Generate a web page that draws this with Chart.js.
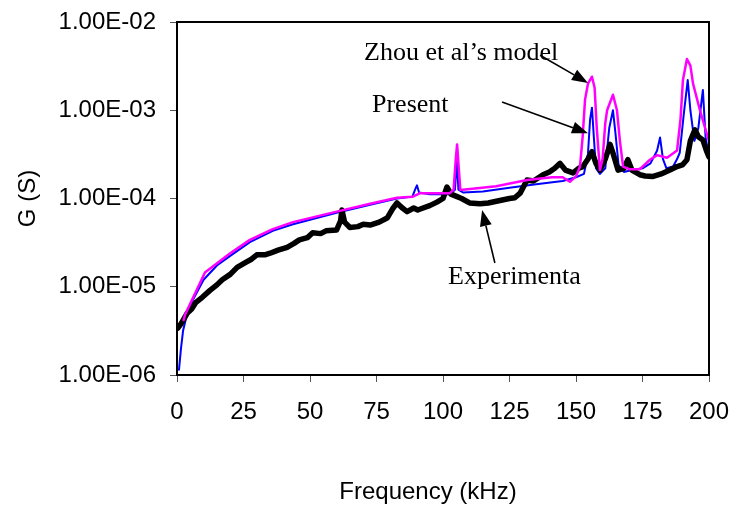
<!DOCTYPE html>
<html>
<head>
<meta charset="utf-8">
<script src="https://cdn.jsdelivr.net/npm/chart.js@4/dist/chart.umd.min.js"></script>
<style>
  html, body { margin: 0; padding: 0; background: #fff; }
</style>
</head>
<body>
<canvas id="gChart" width="733" height="510"></canvas>
<script>
// x: frequency (kHz), y: conductance G (S)
const xTicks = [0, 25, 50, 75, 100, 125, 150, 175, 200];
const yTicks = [1e-6, 1e-5, 1e-4, 1e-3, 1e-2];
const yTickLabels = ['1.00E-06', '1.00E-05', '1.00E-04', '1.00E-03', '1.00E-02'];

// Zhou et al's model (magenta)
const zhouFreq = [2.5, 3, 10.5, 20, 27.4, 36, 43.6, 60, 72.6, 82.7, 88.7, 91.4, 102.6, 104, 104.8, 105.3, 105.8, 106.5,
  107.5, 120, 131.6, 141, 145, 147.7, 150, 151.5, 152.5, 153.4, 154.5, 156, 157, 157.8, 159, 160, 161, 161.7, 163.9,
  165.4, 166.5, 167.7, 170, 174, 177.8, 180.5, 184.2, 188, 189.3, 190.2, 191.7, 193, 194, 196.6, 199.6, 200];
const zhouG = [4.2e-6, 4.8e-6, 1.45e-5, 2.4e-5, 3.4e-5, 4.5e-5, 5.4e-5, 7.1e-5, 8.7e-5, 1.02e-4, 1.05e-4, 1.15e-4, 1.15e-4, 1.26e-4, 2.8e-4, 4.1e-4, 2.5e-4, 1.26e-4,
  1.26e-4, 1.38e-4, 1.62e-4, 1.74e-4, 1.74e-4, 1.55e-4, 1.78e-4, 2.3e-4, 5.0e-4, 1.32e-3, 2.0e-3, 2.4e-3, 1.8e-3, 6.3e-4, 2.1e-4, 2.8e-4, 7.1e-4, 1.0e-3, 1.5e-3,
  1.0e-3, 4.5e-4, 2.3e-4, 2.15e-4, 2.15e-4, 2.75e-4, 3.1e-4, 2.9e-4, 3.5e-4, 8.0e-4, 2.2e-3, 3.8e-3, 3.2e-3, 2.0e-3, 1.0e-3, 4.9e-4, 4.5e-4];

// Present model (blue)
const presentFreq = [0.75, 1.5, 2.3, 3.5, 6, 10, 15, 20, 27.4, 36, 43.6, 60, 72.6, 82.7, 88.5, 89.5, 90.2, 91, 95, 102.6,
  104.5, 105.2, 105.8, 107.5, 115, 125, 135, 145, 150, 153, 154.5, 155.3, 156, 156.7, 157.5, 159, 161, 162.5, 163.9,
  164.8, 166, 168, 171, 175, 178, 180.5, 181.6, 182.7, 184, 186.5, 188, 189, 190.5, 192, 193, 194.5, 196, 197.7, 198.7, 199.6];
const presentG = [1.15e-6, 2.0e-6, 3.2e-6, 4.5e-6, 7.1e-6, 1.2e-5, 1.74e-5, 2.24e-5, 3.2e-5, 4.3e-5, 5.1e-5, 6.9e-5, 8.5e-5, 1.0e-4, 1.05e-4, 1.26e-4, 1.41e-4, 1.17e-4, 1.12e-4, 1.12e-4,
  1.26e-4, 2.75e-4, 1.26e-4, 1.17e-4, 1.2e-4, 1.32e-4, 1.45e-4, 1.58e-4, 1.74e-4, 1.9e-4, 3.2e-4, 7.9e-4, 1.07e-3, 5.0e-4, 2.2e-4, 1.9e-4, 2.2e-4, 6.3e-4, 1.0e-3,
  5.6e-4, 2.4e-4, 2.0e-4, 2.1e-4, 2.2e-4, 2.5e-4, 3.5e-4, 4.9e-4, 2.8e-4, 2.2e-4, 2.3e-4, 2.8e-4, 3.3e-4, 8.9e-4, 2.2e-3, 1.0e-3, 4.5e-4, 6.3e-4, 1.7e-3, 5.0e-4, 3.5e-4];

// Experimental (black)
const expFreq = [0.3, 1.5, 3.8, 5.5, 7, 9.5, 12.4, 15, 17, 20, 22.6, 26, 28, 30, 33, 35, 38, 41.4, 44, 46, 49, 51, 54, 56,
  60, 61.5, 62, 63, 65, 68, 70, 72.6, 76, 79, 81, 82.7, 84.5, 86.5, 89, 90.5, 92.5, 95, 97.7, 100, 101.5, 103, 105.3,
  107, 110, 113.9, 117, 121.4, 125, 127, 129, 131.6, 134, 137.6, 140, 142, 144, 146, 148.9, 151, 152.6, 154.5, 156,
  157.5, 159, 161, 162.8, 164, 165.8, 168, 169.5, 171, 174, 176, 179, 182, 185.3, 188, 190, 191.7, 193, 194.7, 196,
  197.7, 199, 200];
const expG = [3.4e-6, 3.8e-6, 5.0e-6, 5.6e-6, 6.6e-6, 7.6e-6, 9.1e-6, 1.05e-5, 1.2e-5, 1.38e-5, 1.66e-5, 1.9e-5, 2.05e-5, 2.3e-5, 2.3e-5, 2.4e-5, 2.6e-5, 2.8e-5, 3.1e-5, 3.4e-5, 3.6e-5, 4.1e-5, 4.0e-5, 4.3e-5,
  4.4e-5, 5.6e-5, 7.4e-5, 5.4e-5, 4.7e-5, 4.8e-5, 5.1e-5, 5.0e-5, 5.4e-5, 6.0e-5, 7.6e-5, 8.9e-5, 7.9e-5, 7.1e-5, 7.8e-5, 7.4e-5, 7.8e-5, 8.3e-5, 9.1e-5, 1.0e-4, 1.35e-4, 1.12e-4, 1.05e-4,
  1.0e-4, 8.9e-5, 8.7e-5, 8.9e-5, 9.5e-5, 1.0e-4, 1.02e-4, 1.15e-4, 1.62e-4, 1.58e-4, 1.86e-4, 2.0e-4, 2.2e-4, 2.5e-4, 2.1e-4, 1.95e-4, 2.2e-4, 2.3e-4, 2.8e-4, 3.4e-4,
  2.5e-4, 2.1e-4, 2.8e-4, 4.1e-4, 3.2e-4, 2.1e-4, 2.2e-4, 2.75e-4, 2.1e-4, 1.86e-4, 1.8e-4, 1.78e-4, 1.9e-4, 2.1e-4, 2.3e-4, 2.4e-4, 2.75e-4, 4.5e-4, 6.0e-4, 5.0e-4,
  4.6e-4, 3.5e-4, 2.95e-4];

const toPoints = (xs, ys) => xs.map((x, i) => ({ x: x, y: ys[i] }));

// 注釈 (text + arrow), in data units
const notes = [
  { text: 'Zhou et al\u2019s model', at: [70.3, 4.46e-3], from: [136.5, 4.2e-3], to: [154.5, 2.04e-3] },
  { text: 'Present', at: [73.3, 1.15e-3], from: [122.2, 1.24e-3], to: [154.5, 5.5e-4] },
  { text: 'Experimenta', at: [101.9, 1.29e-5], from: [119.5, 1.86e-5], to: [114.7, 7.4e-5] }
];

function drawArrow(ctx, x1, y1, x2, y2) {
  const ang = Math.atan2(y2 - y1, x2 - x1);
  const len = 16, half = 6;
  const c = Math.cos(ang), s = Math.sin(ang);
  ctx.beginPath();
  ctx.moveTo(x1, y1);
  ctx.lineTo(x2 - len * c, y2 - len * s);
  ctx.stroke();
  ctx.beginPath();
  ctx.moveTo(x2, y2);
  ctx.lineTo(x2 - len * c + half * s, y2 - len * s - half * c);
  ctx.lineTo(x2 - len * c - half * s, y2 - len * s + half * c);
  ctx.closePath();
  ctx.fill();
}

const extras = {
  id: 'extras',
  afterDatasetsDraw(chart) {
    const { ctx, chartArea: a, scales: { x, y } } = chart;
    ctx.save();
    // plot frame
    ctx.strokeStyle = '#000';
    ctx.lineWidth = 2;
    ctx.strokeRect(a.left, a.top, a.right - a.left, a.bottom - a.top);

    ctx.fillStyle = '#000';
    ctx.lineWidth = 1.6;
    ctx.font = '26px "Liberation Serif", "Times New Roman", serif';
    ctx.textBaseline = 'middle';
    ctx.textAlign = 'left';
    notes.forEach(n => {
      ctx.fillText(n.text, x.getPixelForValue(n.at[0]), y.getPixelForValue(n.at[1]));
      drawArrow(ctx, x.getPixelForValue(n.from[0]), y.getPixelForValue(n.from[1]),
        x.getPixelForValue(n.to[0]), y.getPixelForValue(n.to[1]));
    });

    // x軸タイトル (slightly left of centre, like the original)
    ctx.font = '24px "Liberation Sans", Arial, sans-serif';
    ctx.textAlign = 'center';
    ctx.fillText('Frequency (kHz)', (a.left + a.right) / 2 - 15, 492);
    ctx.restore();
  }
};

const tickFont = { family: '"Liberation Sans", Arial, sans-serif', size: 24 };

new Chart(document.getElementById('gChart').getContext('2d'), {
  type: 'line',
  data: {
    datasets: [
      {
        label: 'Zhou et al\u2019s model',
        data: toPoints(zhouFreq, zhouG),
        borderColor: '#ff00ff',
        borderWidth: 2.5,
        order: 1
      },
      {
        label: 'Experimental',
        data: toPoints(expFreq, expG),
        borderColor: '#000000',
        borderWidth: 5.5,
        order: 2
      },
      {
        label: 'Present',
        data: toPoints(presentFreq, presentG),
        borderColor: '#0000ff',
        borderWidth: 2,
        order: 3
      }
    ]
  },
  options: {
    responsive: false,
    animation: false,
    parsing: false,
    elements: {
      point: { radius: 0 },
      line: { tension: 0, fill: false, borderJoinStyle: 'round', borderCapStyle: 'round' }
    },
    layout: { padding: { left: 0, right: 24, top: 22, bottom: 0 } },
    plugins: {
      legend: { display: false },
      tooltip: { enabled: false }
    },
    scales: {
      x: {
        type: 'linear',
        min: 0,
        max: 200,
        afterBuildTicks: (scale) => { scale.ticks = xTicks.map(v => ({ value: v })); },
        afterFit: (scale) => { scale.height = 135; scale.paddingLeft = 0; scale.paddingRight = 0; },
        grid: { drawOnChartArea: false, drawTicks: true, tickLength: 7, color: '#555' },
        border: { color: '#000', width: 2 },
        ticks: { color: '#000', font: tickFont, padding: 16, maxRotation: 0 }
      },
      y: {
        type: 'logarithmic',
        min: 1e-6,
        max: 1e-2,
        afterBuildTicks: (scale) => { scale.ticks = yTicks.map(v => ({ value: v })); },
        afterFit: (scale) => { scale.width = 177; scale.paddingTop = 0; scale.paddingBottom = 0; },
        grid: { drawOnChartArea: false, drawTicks: true, tickLength: 7, color: '#555' },
        border: { color: '#000', width: 2 },
        ticks: {
          color: '#000',
          font: tickFont,
          padding: 14,
          callback: (value) => {
            const i = yTicks.findIndex(t => Math.abs(Math.log10(t) - Math.log10(value)) < 1e-6);
            return i >= 0 ? yTickLabels[i] : '';
          }
        },
        title: {
          display: true,
          text: 'G (S)',
          color: '#000',
          font: tickFont,
          padding: { top: 14, bottom: 0 }
        }
      }
    }
  },
  plugins: [extras]
});
</script>
</body>
</html>
